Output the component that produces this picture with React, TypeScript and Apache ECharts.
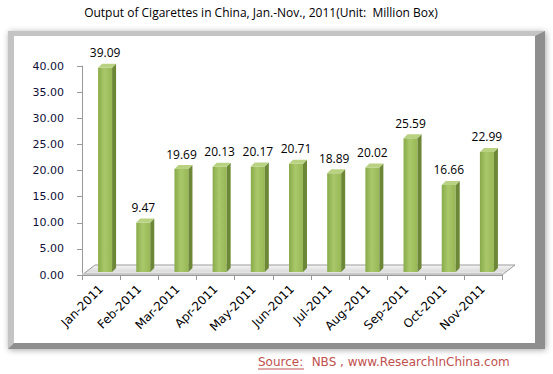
import React, { useEffect, useRef } from "react";
import * as echarts from "echarts";

const categories = ["Jan-2011", "Feb-2011", "Mar-2011", "Apr-2011", "May-2011", "Jun-2011", "Jul-2011", "Aug-2011", "Sep-2011", "Oct-2011", "Nov-2011"];
const output = [39.09, 9.47, 19.69, 20.13, 20.17, 20.71, 18.89, 20.02, 25.59, 16.66, 22.99];
const titleText = "Output of Cigarettes in China, Jan.-Nov., 2011(Unit:  Million Box)";
const sourceLabel = "Source:";
const sourceRest = "  NBS , www.ResearchInChina.com";

export default function App() {
  const ref = useRef<HTMLDivElement>(null);
  useEffect(() => {
    if (!ref.current) return;
    const chart = echarts.init(ref.current, null, { renderer: "svg" });
    const barData = output.map((v, i) => [i, v]);
    chart.setOption({
      animation: false,
      backgroundColor: "#ffffff",
      graphic: [
        {
          type: "rect",
          z: -10,
          shape: { x: 8, y: 31, width: 537, height: 318 },
          style: { fill: "#8e8e8e", shadowBlur: 6, shadowColor: "rgba(0,0,0,0.35)", shadowOffsetX: 1, shadowOffsetY: 1 },
        },
        {
          type: "polygon",
          z: -9,
          shape: { points: [[8, 31], [545, 31], [535, 36], [14, 36], [14, 343], [8, 349]] },
          style: { fill: "#c4c4c4" },
        },
        {
          type: "rect",
          z: -8,
          shape: { x: 14, y: 36, width: 521, height: 307 },
          style: { fill: "#ffffff" },
        },
        {
          type: "text",
          x: 261,
          y: 12,
          style: { text: titleText, fill: "#000000", font: "12px 'Open Sans'", textAlign: "center", textVerticalAlign: "middle" },
        },
        {
          type: "text",
          x: 258,
          y: 362,
          style: { text: sourceLabel, fill: "#c0504d", font: "12px 'DejaVu Sans'", textAlign: "left", textVerticalAlign: "middle" },
        },
        {
          type: "line",
          shape: { x1: 258, y1: 369, x2: 304, y2: 369 },
          style: { stroke: "#c0504d", lineWidth: 1 },
        },
        {
          type: "text",
          x: 304,
          y: 362,
          style: { text: sourceRest, fill: "#c0504d", font: "12px 'DejaVu Sans'", textAlign: "left", textVerticalAlign: "middle" },
        },
      ],
      grid: { left: 82, right: 51, top: 66, bottom: 99 },
      xAxis: {
        type: "category",
        data: categories,
        boundaryGap: true,
        axisLine: { show: true, lineStyle: { color: "#999999" } },
        axisTick: { show: true, length: 5, lineStyle: { color: "#999999" } },
        axisLabel: { rotate: 45, margin: 12, color: "#000000", fontSize: 12, fontFamily: "DejaVu Sans", interval: 0 },
        splitLine: { show: false },
      },
      yAxis: {
        type: "value",
        min: 0,
        max: 40,
        interval: 5,
        axisLine: { show: true, lineStyle: { color: "#999999" } },
        axisTick: { show: true, length: 5, lineStyle: { color: "#999999" } },
        axisLabel: { margin: 18, color: "#10103a", fontSize: 11, fontFamily: "DejaVu Sans", formatter: (v: number) => v.toFixed(2) },
        splitLine: { show: false },
      },
      series: [
        {
          type: "custom",
          data: [[0]],
          silent: true,
          z: 1,
          renderItem: (params: any, api: any) => {
            const cs = params.coordSys;
            const x0 = cs.x;
            const x1 = cs.x + cs.width;
            const yb = cs.y + cs.height;
            const ox = 13;
            const oy = 10;
            return {
              type: "group",
              children: [
                {
                  type: "polygon",
                  shape: { points: [[x0, yb], [x1, yb], [x1 + ox, yb - oy], [x0 + ox, yb - oy]] },
                  style: {
                    fill: new echarts.graphic.LinearGradient(0, 0, 0, 1, [
                      { offset: 0, color: "#f6f6f6" },
                      { offset: 0.6, color: "#dcdcdc" },
                      { offset: 1, color: "#f2f2f2" },
                    ]),
                    stroke: "#9a9a9a",
                    lineWidth: 1,
                  },
                },
                {
                  type: "polygon",
                  shape: { points: [[x0, yb], [x1, yb], [x1, yb - 2], [x0, yb - 2]] },
                  style: { fill: "#c8c8c8" },
                },
              ],
            };
          },
        },
        {
          type: "custom",
          data: barData,
          z: 2,
          renderItem: (params: any, api: any) => {
            const idx = api.value(0);
            const val = api.value(1);
            const base = api.coord([idx, 0]);
            const top = api.coord([idx, val]);
            const w = 14;
            const dx = 4;
            const dy = 4;
            const bx0 = base[0] - 3;
            const bx1 = bx0 + w;
            const yb = base[1] - 3;
            const yt = top[1] - 3;
            return {
              type: "group",
              children: [
                {
                  type: "rect",
                  shape: { x: bx0, y: yt, width: w, height: yb - yt },
                  style: {
                    fill: new echarts.graphic.LinearGradient(0, 0, 1, 0, [
                      { offset: 0, color: "#8aab4a" },
                      { offset: 0.45, color: "#a8c86a" },
                      { offset: 1, color: "#98b856" },
                    ]),
                  },
                },
                {
                  type: "polygon",
                  shape: { points: [[bx1, yt], [bx1 + dx, yt - dy], [bx1 + dx, yb - dy], [bx1, yb]] },
                  style: { fill: "#6c8736" },
                },
                {
                  type: "polygon",
                  shape: { points: [[bx0, yt], [bx0 + dx, yt - dy], [bx1 + dx, yt - dy], [bx1, yt]] },
                  style: { fill: "#b8d282" },
                },
                {
                  type: "text",
                  x: bx0 + w / 2,
                  y: yt - dy - 5,
                  style: {
                    text: val.toFixed(2),
                    fill: "#000000",
                    font: "12px 'Open Sans'",
                    textAlign: "center",
                    textVerticalAlign: "bottom",
                  },
                },
              ],
            };
          },
        },
      ],
    });
    return () => chart.dispose();
  }, []);
  return <div ref={ref} style={{ position: "fixed", left: 0, top: 0, width: 553, height: 374 }} />;
}
